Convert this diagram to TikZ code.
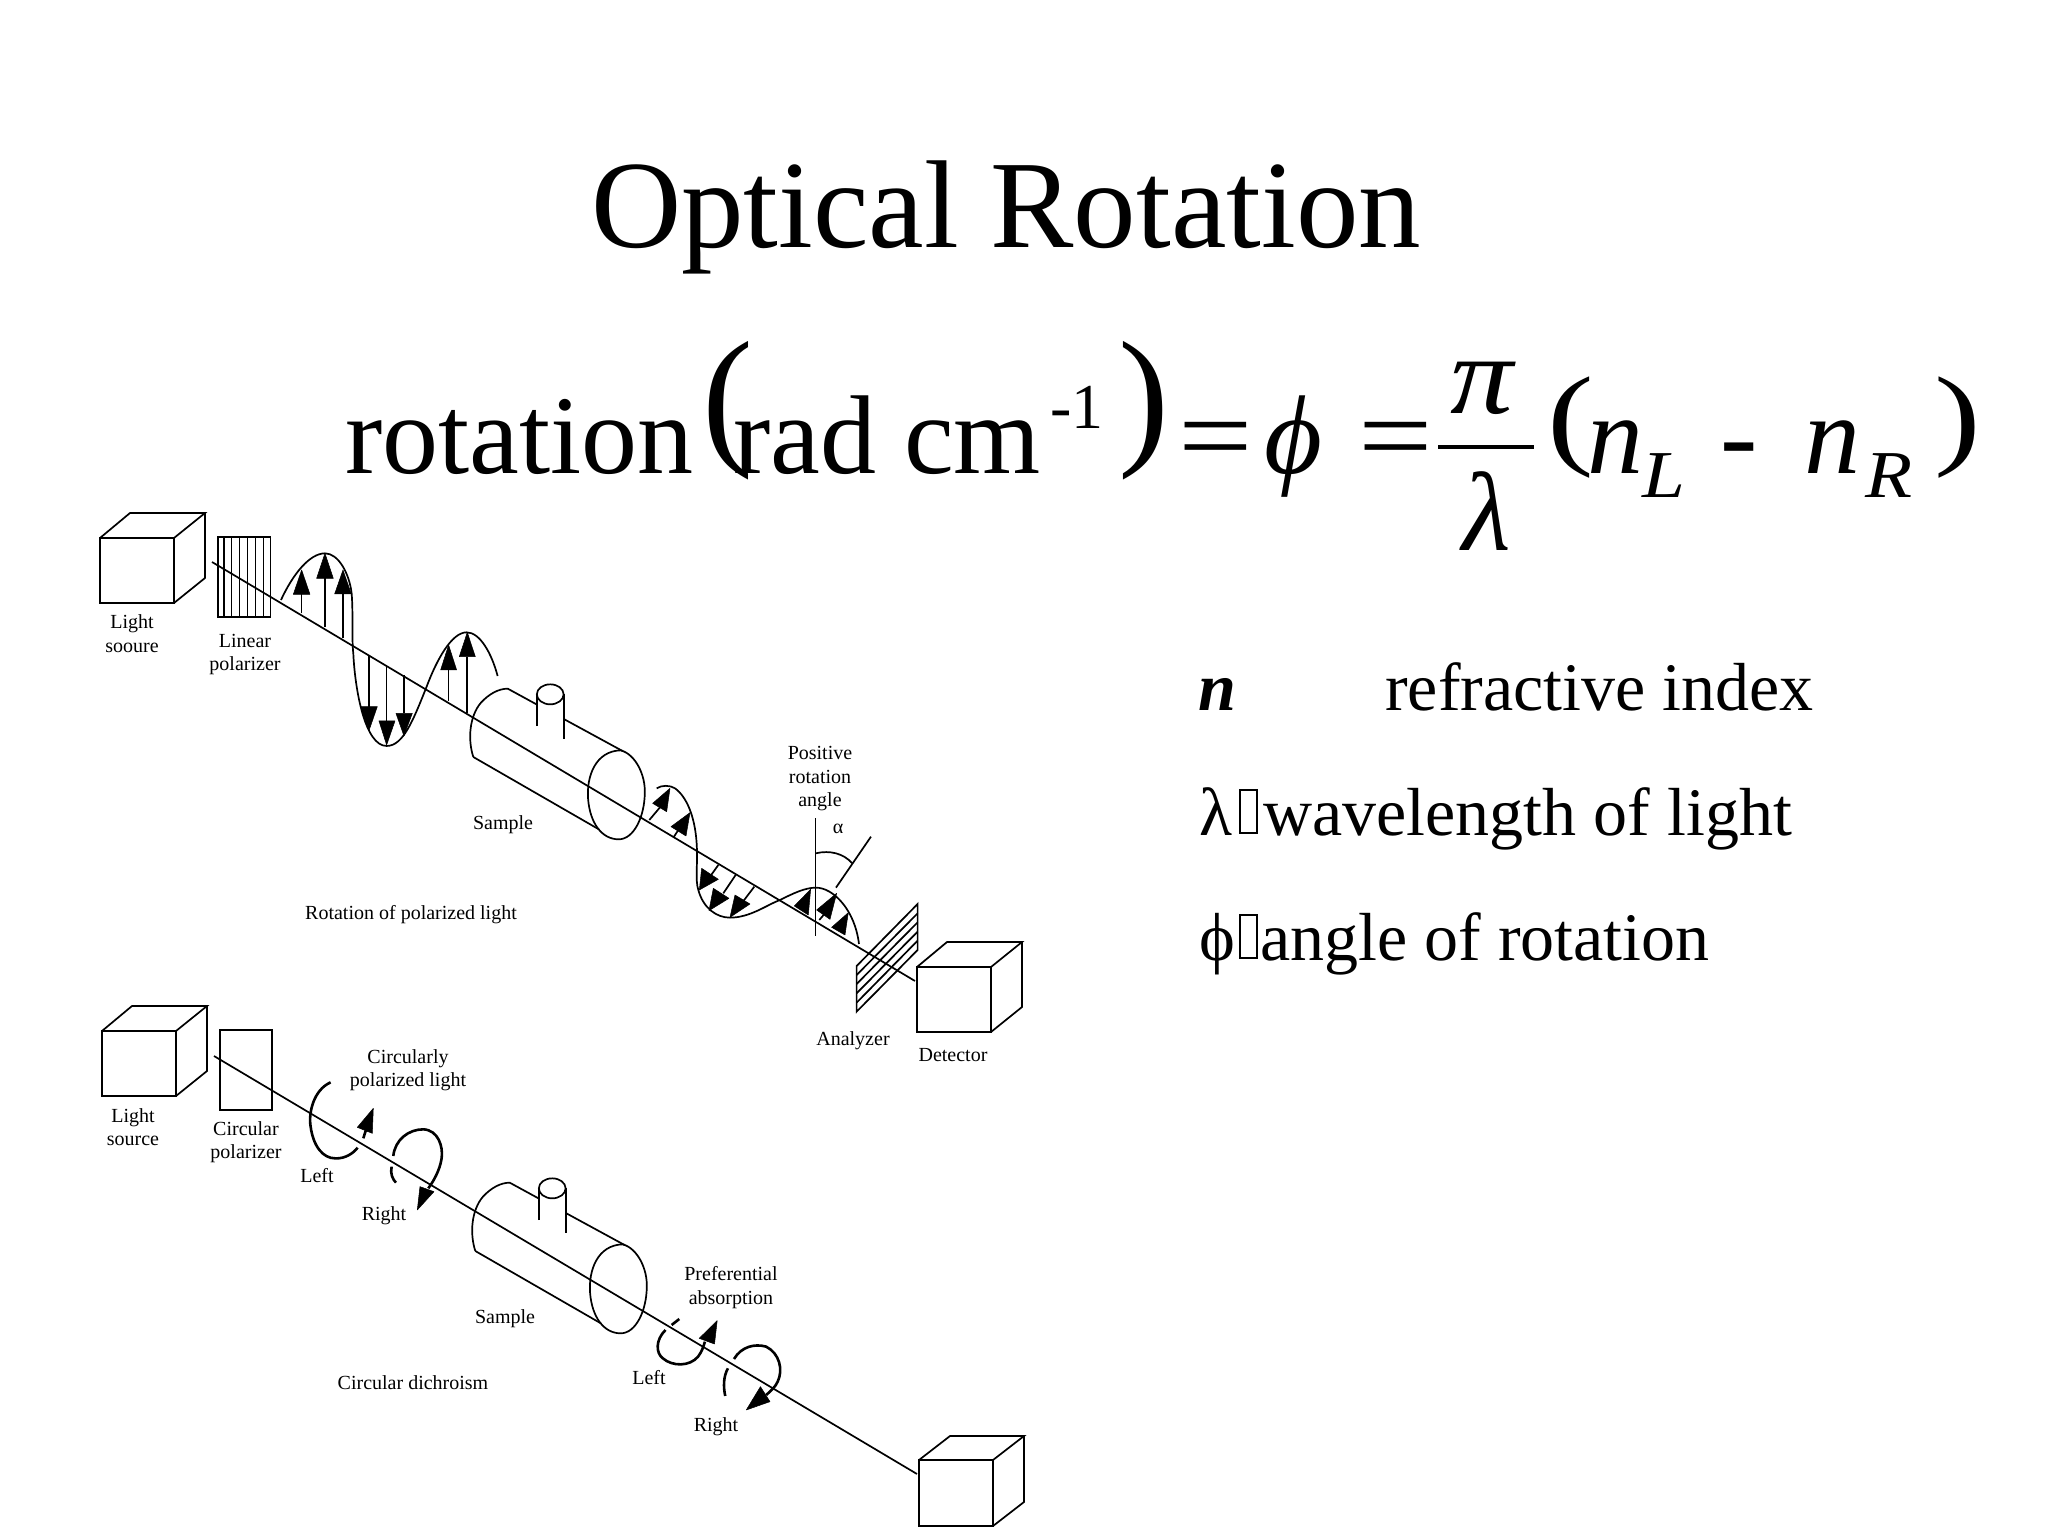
\documentclass[tikz,border=0pt]{standalone}
\usepackage{fontspec}
\usepackage{graphicx}
\setmainfont{Liberation Serif}
\newcommand{\fsz}[1]{\fontsize{#1}{#1}\selectfont}
\newcommand{\cubeshape}[7]{%
  \draw[ln,line join=miter] (#1,#3) rectangle (#2,#4);
  \draw[ln,line join=miter] (#1,#3) -- (#5,#7) -- (#6,#7) -- (#2,#3);
  \draw[ln,line join=miter] (#6,#7) -- (#6,#4-#3+#7) -- (#2,#4);
}
\newcommand{\samplecyl}[2]{%
\begin{scope}[shift={(#1,#2)},x=0.3827pt,y=-0.3333pt]
  \draw[ln] (40,243) .. controls (25,190) and (30,120) .. (60,80) .. controls (80,55) and (105,38) .. (130,38) -- (205,85);
  \draw[ln] (278,130) -- (430,225);
  \draw[ln] (40,243) -- (368,460);
  \draw[ln] (207,150) -- (207,55);
  \draw[ln] (277,188) -- (277,55);
  \draw[ln] (241,55) ellipse [x radius=35,y radius=30];
  \draw[ln] (425,223) .. controls (465,235) and (490,300) .. (488,350) .. controls (488,420) and (460,490) .. (420,490) .. controls (375,490) and (345,440) .. (340,370) .. controls (335,300) and (360,225) .. (425,223);
\end{scope}}
\tikzset{
  ln/.style={line width=1.7pt,black},
  thk/.style={line width=2.6pt,black},
  hd/.style={fill=black,draw=black,line width=.5pt,line join=round},
  lab/.style={font=\fsz{20},align=center,inner sep=0pt,anchor=base},
  big/.style={inner sep=0pt,anchor=base west,font=\fsz{112}},
  lst/.style={inner sep=0pt,anchor=base west,font=\fsz{68}},
  tofu/.style={draw=black,line width=1.6pt,inner sep=0pt,minimum width=17pt,minimum height=43pt,anchor=south west},
  zA/.style={shift={(80,490)},x=0.3333pt,y=-0.3333pt},
  zB/.style={shift={(560,720)},x=0.3333pt,y=-0.3333pt},
  zC/.style={shift={(80,990)},x=0.3333pt,y=-0.3333pt},
  zD/.style={shift={(460,1170)},x=0.3827pt,y=-0.3333pt},
}
\begin{document}
\begin{tikzpicture}[x=1pt,y=-1pt]
\useasboundingbox (0,0) rectangle (2048,1536);
\fill[white] (0,0) rectangle (2048,1536);

% title and formula
\node[inner sep=0pt,anchor=base west,font=\fsz{125}] (title) at (591,247) {Optical Rotation};
\node[big] (rot) at (345,473) {rotation};
\node[big] (rad) at (733,473) {rad cm};
\node[inner sep=0pt,anchor=base west,font=\fsz{153}] (lpa) at (702,447) {(};
\node[inner sep=0pt,anchor=base west,font=\fsz{64}] (exp) at (1050,428) {-1};
\node[inner sep=0pt,anchor=base west,font=\fsz{153}] (rpa) at (1118,447) {)};
\node[big] (eqa) at (1178,473) {\scalebox{1.18}[1]{=}};
\node[big,font=\fsz{112}\itshape] (phi) at (1264,473) {ϕ};
\node[big] (eqb) at (1358,473) {\scalebox{1.18}[1]{=}};
\node[big,anchor=base,font=\fsz{112}\itshape] (pi) at (1482,413) {\scalebox{1.12}[1]{π}};
\node[big,anchor=base,font=\fsz{112}\itshape] (lam) at (1487,550) {λ};
\fill[black] (1438,445) rectangle (1534,449);
\node[inner sep=0pt,anchor=base west,font=\fsz{112}] (lpb) at (1547,454) {\scalebox{1.25}[1]{(}};
\node[big,font=\fsz{112}\itshape] (na) at (1587,473) {n};
\node[inner sep=0pt,anchor=base west,font=\fsz{67}\itshape] (L) at (1642,497) {\scalebox{1.15}[1]{L}};
\node[big] (minus) at (1720,473) {-};
\node[big,font=\fsz{112}\itshape] (nb) at (1804,473) {n};
\node[inner sep=0pt,anchor=base west,font=\fsz{67}\itshape] (R) at (1865,497) {\scalebox{1.15}[1]{R}};
\node[inner sep=0pt,anchor=base west,font=\fsz{112}] (rpb) at (1934,454) {\scalebox{1.25}[1]{)}};

% legend
\node[lst,font=\fsz{68}\bfseries\itshape] (ln) at (1198,710) {n};
\node[lst] (lr) at (1385,710) {refractive index};
\node[lst] (ll) at (1199,835) {λ};
\node[tofu] (tl) at (1239,834) {};
\node[lst] (lw) at (1263,835) {wavelength of light};
\node[lst] (lp) at (1199,960) {ϕ};
\node[tofu] (tp) at (1239,959) {};
\node[lst] (la) at (1260,960) {angle of rotation};

% top diagram
\cubeshape{100}{174}{538}{603}{130}{205}{513}
\begin{scope}[zA]
  \draw[ln] (415,140) rectangle (572,380);
  \foreach \xx in {432,455,478,502,527,550} \draw[line width=1.2pt] (\xx,140) -- (\xx,380);
  \draw[ln] (603,330) .. controls (640,250) and (690,190) .. (735,190) .. controls (775,190) and (808,250) .. (815,310) .. controls (820,370) and (815,450) .. (820,490) .. controls (825,600) and (855,768) .. (920,768) .. controls (970,768) and (1000,690) .. (1040,590) .. controls (1070,510) and (1115,427) .. (1160,427) .. controls (1200,427) and (1235,490) .. (1253,558);
  \draw[ln] (665,370) -- (665,310);
  \draw[ln] (735,412) -- (735,262);
  \draw[ln] (789,445) -- (789,310);
  \draw[ln] (867,495) -- (867,650);
  \draw[ln] (920,525) -- (920,695);
  \draw[ln] (972,555) -- (972,670);
  \draw[ln] (1106,632) -- (1106,540);
  \draw[ln] (1162,668) -- (1162,500);
  \fill[hd] (665,240) -- (640,313) -- (690,313) -- cycle;
  \fill[hd] (735,190) -- (710,265) -- (760,265) -- cycle;
  \fill[hd] (789,240) -- (764,312) -- (814,312) -- cycle;
  \fill[hd] (867,722) -- (842,650) -- (892,650) -- cycle;
  \fill[hd] (920,765) -- (897,693) -- (945,693) -- cycle;
  \fill[hd] (972,738) -- (948,670) -- (997,670) -- cycle;
  \fill[hd] (1106,465) -- (1082,540) -- (1130,540) -- cycle;
  \fill[hd] (1162,427) -- (1138,500) -- (1186,500) -- cycle;
\end{scope}
\samplecyl{458}{676}
\begin{scope}[zB]
  \draw[ln] (290,205) .. controls (305,195) and (330,195) .. (345,205) .. controls (380,230) and (405,290) .. (410,370) .. controls (414,430) and (405,480) .. (415,510) .. controls (430,565) and (470,593) .. (510,593) .. controls (570,593) and (620,555) .. (660,540) .. controls (700,520) and (735,503) .. (768,503) .. controls (820,503) and (885,570) .. (897,672);
  \draw[ln] (268,300) -- (300,262);
  \draw[ln] (342,350) -- (355,330);
  \draw[ln] (475,435) -- (450,470);
  \draw[ln] (527,465) -- (490,520);
  \draw[ln] (583,500) -- (545,550);
  \draw[ln] (778,600) -- (795,580);
  \fill[hd] (330,205) -- (278,250) -- (320,275) -- cycle;
  \fill[hd] (390,278) -- (333,320) -- (378,348) -- cycle;
  \fill[hd] (418,510) -- (425,445) -- (475,478) -- cycle;
  \fill[hd] (447,572) -- (460,505) -- (507,535) -- cycle;
  \fill[hd] (510,592) -- (525,525) -- (570,552) -- cycle;
  \fill[hd] (752,508) -- (703,558) -- (745,585) -- cycle;
  \fill[hd] (830,520) -- (770,570) -- (810,598) -- cycle;
  \fill[hd] (865,578) -- (815,622) -- (855,645) -- cycle;
  \draw[ln] (767,295) -- (767,648);
  \draw[ln] (828,503) -- (933,350);
  \draw[ln] (767,400) .. controls (810,390) and (850,400) .. (877,430);
  \draw[ln] (890,738) -- (1073,552) -- (1073,690) -- (890,875) -- cycle;
  \foreach \ya/\yb in {765/580,792/607,820/635,848/662} \draw[ln] (890,\ya) -- (1073,\yb);
\end{scope}
\cubeshape{917}{991}{967}{1032}{947}{1022}{942}
\coordinate (axAs) at (212,562);
\coordinate (axAe) at (915,981);
\draw[ln] (axAs) -- (axAe);

% top labels
\node[lab] (t1) at (132,628) {Light};
\node[lab] (t2) at (132,652) {sooure};
\node[lab] (t3) at (245,647) {Linear};
\node[lab] (t4) at (245,670) {polarizer};
\node[lab] (t5) at (503,829) {Sample};
\node[lab] (t6) at (820,759) {Positive};
\node[lab] (t7) at (820,783) {rotation};
\node[lab] (t8) at (820,806) {angle};
\node[lab] (t9) at (838,833) {α};
\node[lab] (t10) at (853,1045) {Analyzer};
\node[lab] (t11) at (953,1061) {Detector};
\node[lab] (t12) at (411,919) {Rotation of polarized light};

% bottom diagram
\cubeshape{102}{176}{1031}{1096}{132}{207}{1006}
\begin{scope}[zC]
  \draw[ln] (421,121) rectangle (577,360);
  \draw[thk] (752,277) .. controls (700,300) and (685,370) .. (692,410) .. controls (700,470) and (730,505) .. (765,505) .. controls (795,507) and (820,490) .. (833,473);
  \draw[thk] (850,445) -- (858,420);
  \fill[hd] (880,355) -- (832,412) -- (877,430) -- cycle;
  \draw[thk] (940,498) .. controls (945,450) and (985,418) .. (1030,418) .. controls (1075,420) and (1090,470) .. (1085,505) .. controls (1080,540) and (1060,575) .. (1045,595);
  \fill[hd] (1012,660) -- (1020,590) -- (1062,605) -- cycle;
  \draw[thk] (935,530) .. controls (930,550) and (938,568) .. (948,578);
\end{scope}
\samplecyl{460}{1170}
\begin{scope}[zD]
  \draw[thk] (573,447) -- (553,465);
  \draw[thk] (537,480) .. controls (510,510) and (512,550) .. (530,565) .. controls (555,590) and (600,590) .. (622,560) .. controls (632,545) and (636,530) .. (640,515);
  \fill[hd] (672,452) -- (625,505) -- (665,522) -- cycle;
  \draw[thk] (716,567) .. controls (735,530) and (770,520) .. (800,530) .. controls (835,550) and (845,600) .. (830,635) .. controls (825,650) and (810,665) .. (800,675);
  \fill[hd] (748,720) -- (785,650) -- (810,695) -- cycle;
  \draw[thk] (700,595) .. controls (688,620) and (688,650) .. (693,678);
\end{scope}
\cubeshape{919}{993}{1460}{1526}{950}{1024}{1436}
\coordinate (axBs) at (214,1056);
\coordinate (axBe) at (917,1474);
\draw[ln] (axBs) -- (axBe);

% bottom labels
\node[lab] (b1) at (133,1122) {Light};
\node[lab] (b2) at (133,1145) {source};
\node[lab] (b3) at (246,1135) {Circular};
\node[lab] (b4) at (246,1158) {polarizer};
\node[lab] (b5) at (408,1063) {Circularly};
\node[lab] (b6) at (408,1086) {polarized light};
\node[lab] (b7) at (317,1182) {Left};
\node[lab] (b8) at (384,1220) {Right};
\node[lab] (b9) at (505,1323) {Sample};
\node[lab] (b10) at (731,1280) {Preferential};
\node[lab] (b11) at (731,1304) {absorption};
\node[lab] (b12) at (649,1384) {Left};
\node[lab] (b13) at (716,1431) {Right};
\node[lab] (b14) at (413,1389) {Circular dichroism};
\end{tikzpicture}
\end{document}
